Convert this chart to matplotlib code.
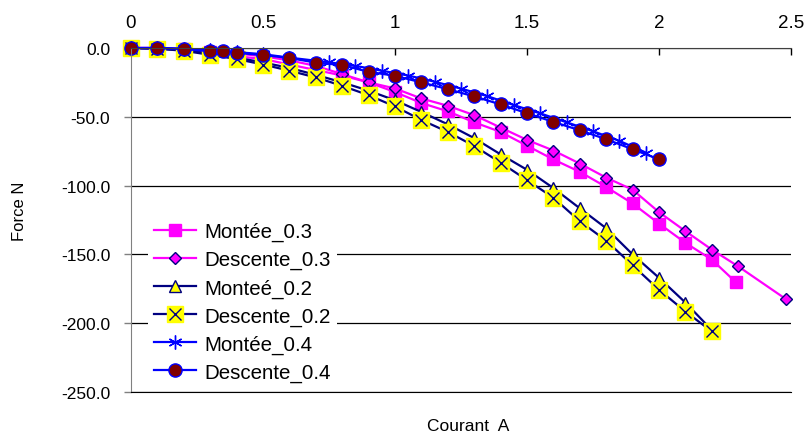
import matplotlib
matplotlib.use('Agg')
import matplotlib.pyplot as plt
from matplotlib.ticker import FormatStrFormatter, FuncFormatter

plt.rcParams['font.family'] = ['Liberation Sans', 'DejaVu Sans']

# courant (A) / force (N)
x_m03 = [0, 0.1, 0.2, 0.3, 0.4, 0.5, 0.6, 0.7, 0.8, 0.9, 1.0, 1.1, 1.2,
         1.3, 1.4, 1.5, 1.6, 1.7, 1.8, 1.9, 2.0, 2.1, 2.2, 2.29]
y_m03 = [0, 0, -1, -3, -6, -8, -12, -16, -20, -25, -32, -40, -46,
         -54, -61, -71, -81, -90, -101, -113, -127.6, -141.6, -153.8, -170]

x_d03 = [0, 0.1, 0.2, 0.3, 0.4, 0.5, 0.6, 0.7, 0.8, 0.9, 1.0, 1.1, 1.2,
         1.3, 1.4, 1.5, 1.6, 1.7, 1.8, 1.9, 2.0, 2.1, 2.2, 2.3, 2.48]
y_d03 = [0, 0, -1, -2, -4, -6, -9, -13, -19, -25, -29.4, -36.7, -42,
         -48.8, -57.8, -66.8, -74.5, -84, -94.2, -103, -119.3, -133.1,
         -146.5, -158.7, -182.4]

x_m02 = [0, 0.1, 0.2, 0.3, 0.4, 0.5, 0.6, 0.7, 0.8, 0.9, 1.0, 1.1, 1.2,
         1.3, 1.4, 1.5, 1.6, 1.7, 1.8, 1.9, 2.0, 2.1, 2.2]
y_m02 = [0, -0.5, -1.5, -4, -7, -10.5, -14.5, -19.5, -25, -31, -38, -46.5,
         -55.5, -65.5, -77.3, -88.5, -101.8, -116.5, -131, -150, -167,
         -185, -205]

x_d02 = [0, 0.1, 0.2, 0.3, 0.4, 0.5, 0.6, 0.7, 0.8, 0.9, 1.0, 1.1, 1.2,
         1.3, 1.4, 1.5, 1.6, 1.7, 1.8, 1.9, 2.0, 2.1, 2.2]
y_d02 = [0, -0.5, -2, -5, -8, -12, -16.5, -21.4, -27.5, -34.3, -42.5,
         -52.3, -61, -71.2, -83.3, -96, -108.8, -125.9, -140, -157.9,
         -175.7, -191.5, -206]

x_m04 = [0, 0.1, 0.2, 0.3, 0.4, 0.5, 0.6, 0.75, 0.85, 0.95, 1.05, 1.15,
         1.25, 1.35, 1.45, 1.55, 1.65, 1.75, 1.85, 1.95]
y_m04 = [0, 0, -0.5, -1.5, -3, -4.5, -7, -10.4, -13, -16.5, -20, -24.5,
         -29.5, -35, -41.5, -47.5, -54, -60.5, -67.5, -76]

x_d04 = [0, 0.1, 0.2, 0.3, 0.35, 0.4, 0.5, 0.6, 0.7, 0.8, 0.9, 1.0, 1.1,
         1.2, 1.3, 1.4, 1.5, 1.6, 1.7, 1.8, 1.9, 2.0]
y_d04 = [0, 0, -0.7, -2.4, -2.4, -3.6, -5.1, -7.3, -10.6, -12.4, -17.3,
         -20.2, -25, -29.9, -35.2, -41, -47.4, -53.7, -59.8, -66.3,
         -73.6, -80.9]

xticks = [0, 0.5, 1, 1.5, 2, 2.5]
yticks = [0, -50, -100, -150, -200, -250]

magenta = '#FF00FF'
navy = '#000080'
blue = '#0000FF'
yellow = '#FFFF00'
maroon = '#800000'

fig = plt.figure(figsize=(8.12, 4.35), dpi=100)
ax = fig.add_axes([131/812, 42/435, 660/812, 344/435])

lw = 1.6
l1, = ax.plot(x_m03, y_m03, '-', color=magenta, lw=lw, marker='s', ms=8.5,
              mfc=magenta, mec=magenta, clip_on=False)
l2, = ax.plot(x_d03, y_d03, '-', color=magenta, lw=lw, marker='D', ms=6.5,
              mfc=magenta, mec=navy, mew=1, clip_on=False)
l3, = ax.plot(x_m02, y_m02, '-', color=navy, lw=lw, marker='^', ms=9,
              mfc=yellow, mec=navy, mew=1, clip_on=False)
l4a, = ax.plot(x_d02, y_d02, '-', color=navy, lw=lw, marker='s', ms=11,
               mfc=yellow, mec=yellow, clip_on=False)
l4b, = ax.plot(x_d02, y_d02, 'none', marker='x', ms=9, mec=navy, mew=1,
               clip_on=False)
l5, = ax.plot(x_m04, y_m04, '-', color=blue, lw=lw, marker=(6, 2, 0), ms=10,
              mec=blue, mew=1, clip_on=False)
l6, = ax.plot(x_d04, y_d04, '-', color=blue, lw=lw, marker='o', ms=9.5,
              mfc=maroon, mec=blue, mew=1, clip_on=False)

ax.set_xlim(0, 2.5)
ax.set_ylim(-250, 0)
ax.set_xticks(xticks)
ax.set_yticks(yticks)
ax.xaxis.set_major_formatter(FuncFormatter(lambda v, p: '%g' % v))
ax.yaxis.set_major_formatter(FormatStrFormatter('%.1f'))
ax.xaxis.tick_top()
ax.tick_params(axis='x', direction='in', length=5, width=1, pad=12,
               labelsize=13.5, colors='black')
ax.tick_params(axis='y', direction='out', length=5, width=1, pad=10,
               labelsize=12.5, color='#808080')
ax.yaxis.grid(True, color='black', lw=0.9)
ax.set_axisbelow(True)
ax.spines['right'].set_visible(False)
ax.spines['bottom'].set_color('black')
ax.spines['top'].set_color('#404040')
ax.spines['left'].set_color('#808080')

fig.text(20/812, 1 - 211/435, 'Force N', rotation=90, ha='center',
         va='center', fontsize=12)
fig.text(468/812, 1 - 427/435, 'Courant  A', ha='center', va='center',
         fontsize=12.5)

lgd = ax.legend([l1, l2, l3, (l4a, l4b), l5, l6],
                ['Montée_0.3', 'Descente_0.3', 'Monteé_0.2', 'Descente_0.2',
                 'Montée_0.4', 'Descente_0.4'],
                loc='center left', bbox_to_anchor=(138/812, 1 - 303/435),
                bbox_transform=fig.transFigure, frameon=True, fancybox=False,
                edgecolor='none', facecolor='white', framealpha=1,
                fontsize=14.8, handlelength=2.0, handletextpad=0.45,
                labelspacing=0.43, borderpad=0.3)

fig.savefig('out.png', dpi=100)
